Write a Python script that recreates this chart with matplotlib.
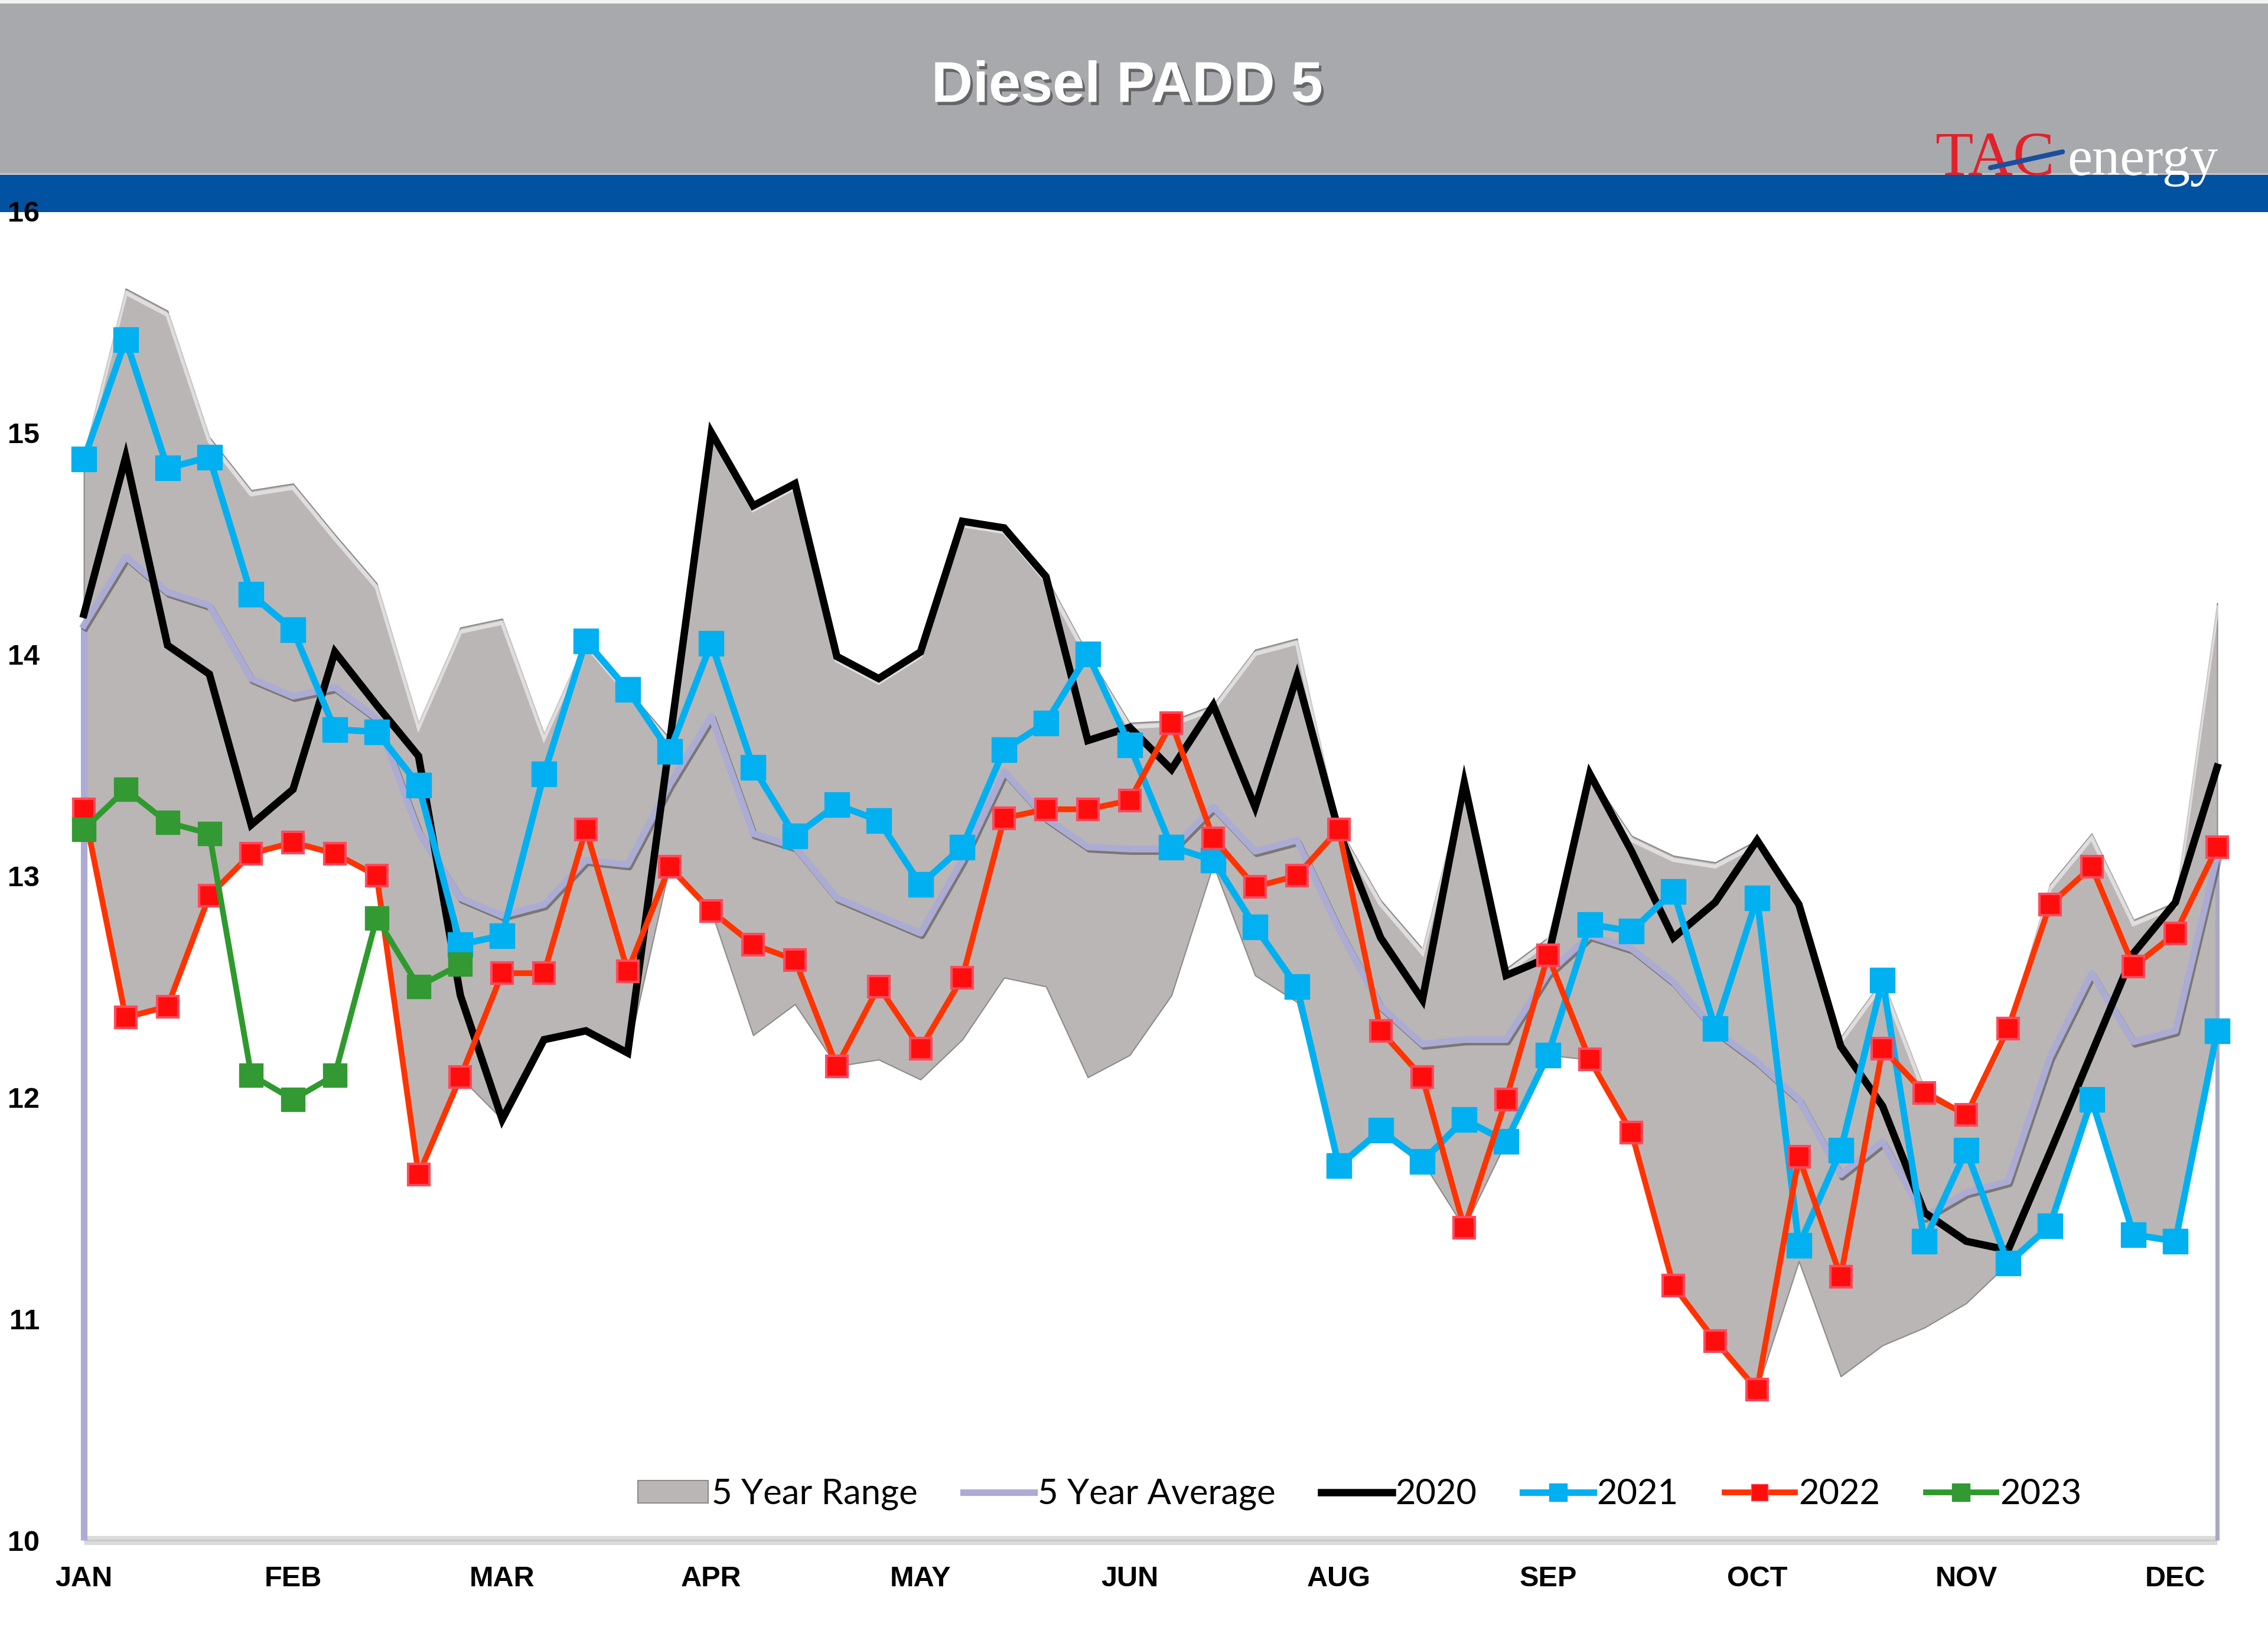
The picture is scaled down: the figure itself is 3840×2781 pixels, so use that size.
import matplotlib
matplotlib.use('Agg')
import matplotlib.pyplot as plt
from matplotlib.patches import Rectangle, Patch
from matplotlib.lines import Line2D
import matplotlib.patheffects as pe
import matplotlib.transforms as mtransforms

# ---------------- data ----------------
weeks = list(range(52))
month_ticks = [0, 5, 10, 15, 20, 25, 30, 35, 40, 45, 50]
month_labels = ['JAN', 'FEB', 'MAR', 'APR', 'MAY', 'JUN', 'AUG', 'SEP', 'OCT', 'NOV', 'DEC']
y_ticks = [10, 11, 12, 13, 14, 15, 16]

range_upper = [14.90, 15.65, 15.55, 14.98, 14.74, 14.77, 14.54, 14.32, 13.69, 14.12,
               14.16, 13.64, 14.06, 13.84, 13.62, 15.00, 14.67, 14.77, 13.99, 13.89,
               14.01, 14.60, 14.57, 14.35, 14.00, 13.69, 13.70, 13.77, 14.02, 14.07,
               13.22, 12.89, 12.67, 13.42, 12.58, 12.72, 13.46, 13.18, 13.09, 13.06,
               13.16, 12.89, 12.27, 12.53, 12.04, 11.93, 12.31, 12.96, 13.19, 12.80,
               12.88, 14.23]
range_lower = [13.30, 12.36, 12.41, 12.91, 13.10, 13.15, 13.10, 13.00, 11.65, 12.09,
               11.90, 12.26, 12.30, 12.20, 13.04, 12.84, 12.28, 12.42, 12.14, 12.17,
               12.08, 12.26, 12.54, 12.50, 12.09, 12.19, 12.46, 13.05, 12.55, 12.43,
               11.69, 11.85, 11.71, 11.41, 11.80, 12.19, 12.17, 11.84, 11.15, 10.90,
               10.68, 11.26, 10.74, 10.88, 10.96, 11.07, 11.25, 11.42, 11.99, 11.38,
               11.35, 12.30]
avg5 = [14.13, 14.44, 14.28, 14.22, 13.89, 13.81, 13.85, 13.71, 13.20, 12.90,
        12.82, 12.87, 13.07, 13.05, 13.41, 13.72, 13.19, 13.13, 12.90, 12.82,
        12.74, 13.07, 13.47, 13.26, 13.13, 13.12, 13.12, 13.31, 13.11, 13.16,
        12.76, 12.41, 12.24, 12.26, 12.26, 12.56, 12.73, 12.67, 12.52, 12.30,
        12.16, 11.99, 11.65, 11.80, 11.46, 11.57, 11.62, 12.18, 12.56, 12.25,
        12.30, 13.09]
y2020 = [14.18, 14.89, 14.04, 13.91, 13.23, 13.39, 14.01, 13.77, 13.54, 12.46,
         11.90, 12.26, 12.30, 12.20, 13.60, 15.00, 14.67, 14.77, 13.99, 13.89,
         14.01, 14.60, 14.57, 14.35, 13.61, 13.67, 13.48, 13.77, 13.31, 13.90,
         13.20, 12.72, 12.44, 13.42, 12.55, 12.63, 13.46, 13.11, 12.72, 12.88,
         13.16, 12.87, 12.23, 11.96, 11.48, 11.35, 11.31, 11.75, 12.20, 12.65,
         12.88, 13.49]
y2021 = [14.88, 15.42, 14.84, 14.89, 14.27, 14.11, 13.66, 13.65, 13.41, 12.69,
         12.73, 13.46, 14.06, 13.84, 13.56, 14.05, 13.49, 13.18, 13.32, 13.25,
         12.96, 13.13, 13.57, 13.69, 14.00, 13.59, 13.13, 13.07, 12.77, 12.50,
         11.69, 11.85, 11.71, 11.90, 11.80, 12.19, 12.78, 12.75, 12.93, 12.31,
         12.90, 11.33, 11.76, 12.53, 11.35, 11.76, 11.25, 11.42, 11.99, 11.38,
         11.35, 12.30]
y2022 = [13.30, 12.36, 12.41, 12.91, 13.10, 13.15, 13.10, 13.00, 11.65, 12.09,
         12.56, 12.56, 13.21, 12.57, 13.04, 12.84, 12.69, 12.62, 12.14, 12.50,
         12.22, 12.54, 13.26, 13.30, 13.30, 13.34, 13.69, 13.17, 12.95, 13.00,
         13.21, 12.30, 12.09, 11.41, 11.99, 12.64, 12.17, 11.84, 11.15, 10.90,
         10.68, 11.73, 11.19, 12.22, 12.02, 11.92, 12.31, 12.87, 13.04, 12.59,
         12.74, 13.13]
y2023 = [13.21, 13.39, 13.24, 13.19, 12.10, 11.99, 12.10, 12.81, 12.50, 12.60]
weeks_2023 = weeks[:len(y2023)]

# ---------------- styles ----------------
C_BAND = '#BAB6B5'
C_BAND_EDGE = '#8E8A8A'
C_AVG = '#ABABD3'
C_2020 = '#000000'
C_2021 = '#00B0F0'
C_2022 = '#FF3300'
C_2022_MK = '#FF0D0D'
C_2023 = '#2E9A2E'

fig = plt.figure(figsize=(38.4, 27.81), dpi=100, facecolor='white')

# header
fig.add_artist(Rectangle((0, 0.8944), 1, 0.1056, transform=fig.transFigure,
                         facecolor='#A8A9AD', edgecolor='none', zorder=-5))
fig.add_artist(Rectangle((0, 0.998), 1, 0.002, transform=fig.transFigure,
                         facecolor='#F2F2F2', edgecolor='none', zorder=-4))
fig.add_artist(Rectangle((0, 0.8710), 1, 0.0234, transform=fig.transFigure,
                         facecolor='#0153A2', edgecolor='none', zorder=-5))
fig.add_artist(Rectangle((0, 0.8936), 1, 0.0012, transform=fig.transFigure,
                         facecolor='#C9C3C3', edgecolor='none', zorder=-4))

fig.text(0.497, 0.947, 'Diesel PADD 5', color='white', fontsize=70,
         fontweight='bold', family='Liberation Sans', ha='center', va='center',
         zorder=5,
         path_effects=[pe.withSimplePatchShadow(offset=(3, -4), shadow_rgbFace='#3A3A3A', alpha=0.6)])

# logo
fig.text(0.8532, 0.8935, 'TAC', color='#E3212B', fontsize=76,
         family='Liberation Serif', ha='left', va='baseline', zorder=5)
fig.text(0.9115, 0.8935, 'energy', color='white', fontsize=68,
         family='Liberation Serif', ha='left', va='baseline', zorder=5)
fig.add_artist(Line2D([0.8776, 0.9094], [0.8979, 0.9076], transform=fig.transFigure,
                      color='#1C4E9E', lw=6, zorder=6, solid_capstyle='round'))

# ---------------- axes ----------------
ax = fig.add_axes([0.03515, 0.0625, 0.9443, 0.809])
ax.patch.set_visible(False)
ax.set_xlim(-0.1, 51.1)
ax.set_ylim(10, 16)

# floor
ax.hlines(10, weeks[0], weeks[-1], color='#DADADA', lw=11, zorder=0.5, clip_on=False)
ax.hlines(10, weeks[0], weeks[-1], color='#C8C8C8', lw=2, zorder=0.6, clip_on=False)

# 5 year range
ax.fill_between(weeks, range_lower, range_upper, facecolor=C_BAND,
                edgecolor=C_BAND_EDGE, linewidth=1.5, zorder=1)
bevel = ax.transData + mtransforms.ScaledTranslation(0, -5 / 72, fig.dpi_scale_trans)
ax.plot(weeks, range_upper, color='white', lw=5, alpha=0.55, zorder=1.1,
        transform=bevel, solid_joinstyle='miter')

# end drop lines of average
ax.vlines([weeks[0], weeks[-1]], 10, [avg5[0], avg5[-1]], colors=[C_AVG, '#A8A8C4'],
          lw=[8, 5], zorder=1.2, clip_on=False)

# 5 year average
ax.plot(weeks, avg5, color=C_AVG, lw=8, zorder=2, clip_on=False,
        path_effects=[pe.SimpleLineShadow(offset=(2, -3), alpha=0.35), pe.Normal()])

# yearly lines
ax.plot(weeks, y2020, color=C_2020, lw=9, zorder=3, clip_on=False,
        solid_joinstyle='miter')
ax.plot(weeks, y2021, color=C_2021, lw=8, marker='s', ms=30, mfc=C_2021,
        mec=C_2021, zorder=4, clip_on=False)
ax.plot(weeks, y2022, color=C_2022, lw=7, marker='s', ms=26, mfc=C_2022_MK,
        mec='#FF4A5C', mew=3, zorder=5, clip_on=False)
ax.plot(weeks_2023, y2023, color=C_2023, lw=7, marker='s', ms=29, mfc='#339933',
        mec='#339933', zorder=6, clip_on=False)

# ticks
for s in ax.spines.values():
    s.set_visible(False)
ax.set_xticks(month_ticks)
ax.set_xticklabels(month_labels)
ax.set_yticks(y_ticks)
ax.set_yticklabels([str(v) for v in y_ticks])
ax.tick_params(axis='both', length=0, labelsize=35)
ax.tick_params(axis='y', pad=49)
ax.tick_params(axis='x', pad=31)
for lab in ax.get_xticklabels() + ax.get_yticklabels():
    lab.set_fontfamily('Liberation Sans')
    lab.set_fontweight('bold')

# legend
handles = [
    Patch(facecolor=C_BAND, edgecolor=C_BAND_EDGE, linewidth=1.5),
    Line2D([], [], color=C_AVG, lw=8),
    Line2D([], [], color=C_2020, lw=9),
    Line2D([], [], color=C_2021, lw=8, marker='s', ms=22),
    Line2D([], [], color=C_2022, lw=7, marker='s', ms=20, mfc=C_2022_MK, mec='#FF4A5C'),
    Line2D([], [], color=C_2023, lw=7, marker='s', ms=21, mfc='#339933', mec='#339933'),
]
labels = ['5 Year Range', '5 Year Average', '2020', '2021', '2022', '2023']
leg = ax.legend(handles, labels, loc='center', bbox_to_anchor=(0.5976, 0.0348),
                ncol=6, frameon=False, handlelength=2.0, handleheight=0.6,
                handletextpad=0.1, columnspacing=1.3,
                prop={'family': 'Lato', 'size': 43})
leg.set_zorder(10)

fig.savefig('out.png', dpi=100, facecolor='white')
